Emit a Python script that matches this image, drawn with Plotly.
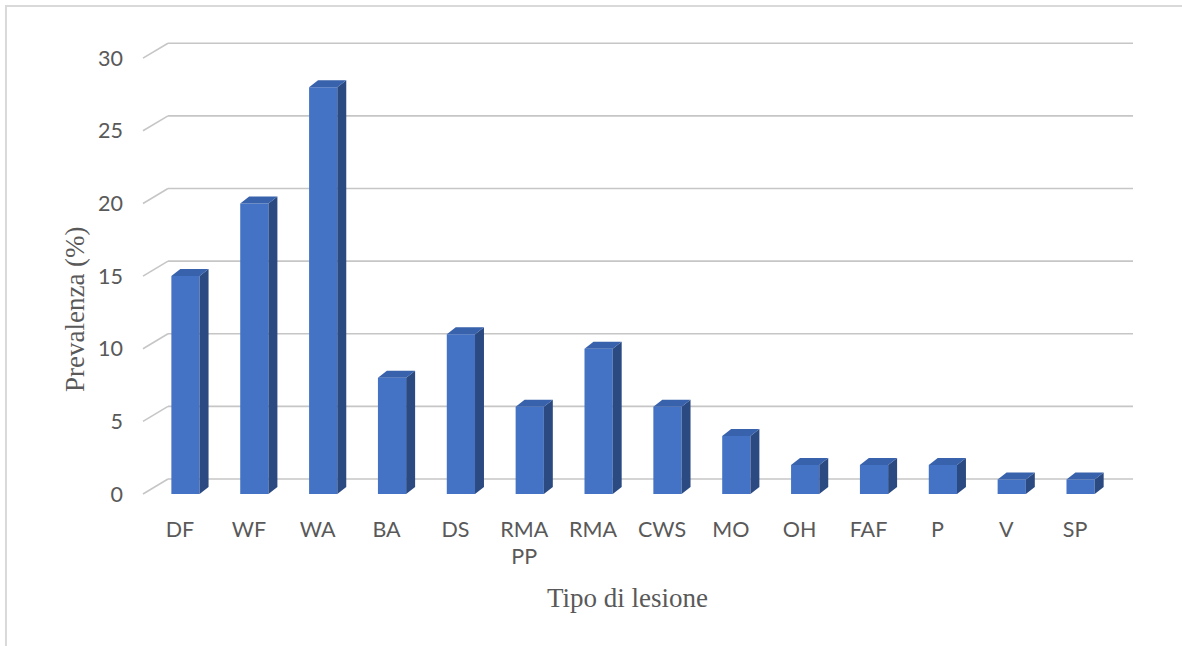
import plotly.graph_objects as go

# ---- data ----
categories = ["DF", "WF", "WA", "BA", "DS", "RMA<br>PP", "RMA", "CWS", "MO", "OH", "FAF", "P", "V", "SP"]
prevalence = [15, 20, 28, 8, 11, 6, 10, 6, 4, 2, 2, 2, 1, 1]
y_ticks = [0, 5, 10, 15, 20, 25, 30]

# ---- style / geometry ----
FRONT = "#4472C4"
SIDE = "#2B4A82"
TOP = "#3862AC"
BAR_W = 0.41
BAR_OFF = -0.125
DEPTH_X = 0.13      # bar depth in x units
DEPTH_Y = 0.48      # bar depth in y units
WALL_Y = 1.03       # back-wall offset in y units
WALL_XP = 0.0259    # back-wall offset in paper units

xs = list(range(len(categories)))

fig = go.Figure()
fig.add_trace(go.Bar(x=xs, y=prevalence, width=BAR_W, offset=BAR_OFF,
                     marker=dict(color=FRONT, line=dict(width=0)), hoverinfo="skip"))

side_x, side_y, top_x, top_y = [], [], [], []
for x, v in zip(xs, prevalence):
    xl = x + BAR_OFF
    xr = xl + BAR_W
    side_x += [xr, xr, xr + DEPTH_X, xr + DEPTH_X, xr, None]
    side_y += [0, v, v + DEPTH_Y, DEPTH_Y, 0, None]
    top_x += [xl, xr, xr + DEPTH_X, xl + DEPTH_X, xl, None]
    top_y += [v, v, v + DEPTH_Y, v + DEPTH_Y, v, None]

fig.add_trace(go.Scatter(x=side_x, y=side_y, fill="toself", fillcolor=SIDE, mode="lines",
                         line=dict(width=0, color=SIDE), hoverinfo="skip"))
fig.add_trace(go.Scatter(x=top_x, y=top_y, fill="toself", fillcolor=TOP, mode="lines",
                         line=dict(width=0, color=TOP), hoverinfo="skip"))

shapes = []
for t in y_ticks:
    shapes.append(dict(type="line", xref="paper", yref="y", x0=WALL_XP, x1=1 + WALL_XP,
                       y0=t + WALL_Y, y1=t + WALL_Y, layer="below",
                       line=dict(color="#c6c6c6", width=1.6)))
    shapes.append(dict(type="line", xref="paper", yref="y", x0=0, x1=WALL_XP,
                       y0=t, y1=t + WALL_Y, layer="below",
                       line=dict(color="#c6c6c6", width=1.6)))
# chart border (left and top)
shapes.append(dict(type="path", xref="paper", yref="paper",
                   path="M -0.142 -0.33 L -0.142 1.074 L 1.1 1.074",
                   line=dict(color="#d9d9d9", width=2)))

TICK_FONT = dict(family="Lato", size=21.5, color="#595959")
TITLE_FONT = dict(family="Liberation Serif", size=27, color="#595959")

fig.update_layout(
    width=1182, height=646,
    margin=dict(l=143, r=74, t=40, b=146),
    paper_bgcolor="white", plot_bgcolor="white",
    showlegend=False, hovermode=False,
    shapes=shapes,
    xaxis=dict(range=[-0.537, 13.478], tickmode="array", tickvals=xs, ticktext=categories,
               showgrid=False, zeroline=False, showline=False, ticks="",
               ticklabelstandoff=14, tickfont=TICK_FONT),
    yaxis=dict(range=[-0.413, 31.25], tickmode="array", tickvals=y_ticks,
               showgrid=False, zeroline=False, showline=False, ticks="",
               ticklabelstandoff=19, tickfont=TICK_FONT),
    annotations=[
        dict(text="Prevalenza (%)", xref="paper", yref="paper", x=-0.0705, y=0.415,
             textangle=-90, showarrow=False, xanchor="center", yanchor="middle",
             font=TITLE_FONT),
        dict(text="Tipo di lesione", xref="paper", yref="paper", x=0.5016, y=-0.213,
             showarrow=False, xanchor="center", yanchor="middle",
             font=TITLE_FONT),
    ],
)

fig.write_html("out.html")
